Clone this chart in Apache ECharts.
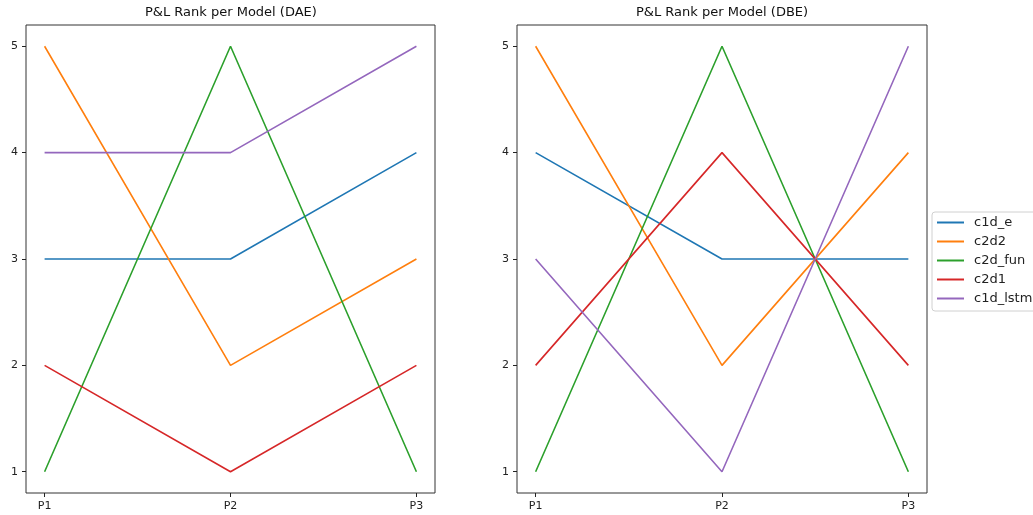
<!DOCTYPE html>
<html>
<head>
<meta charset="utf-8">
<script src="https://cdn.jsdelivr.net/npm/echarts@6/dist/echarts.min.js"></script>
<style>
  html, body { margin: 0; padding: 0; background: #fff; }
  #chart { width: 1033px; height: 515px; }
</style>
</head>
<body>
<div id="chart"></div>
<script>
const periods = ["P1", "P2", "P3"];
const models = ["c1d_e", "c2d2", "c2d_fun", "c2d1", "c1d_lstm"];
const colors = ["#1f77b4", "#ff7f0e", "#2ca02c", "#d62728", "#9467bd"];
const rankTicks = [1, 2, 3, 4, 5];

// ranks per model, one value per period
const daeRanks = [
  [3, 3, 4],
  [5, 2, 3],
  [1, 5, 1],
  [2, 1, 2],
  [4, 4, 5],
];
const dbeRanks = [
  [4, 3, 3],
  [5, 2, 4],
  [1, 5, 1],
  [2, 4, 2],
  [3, 1, 5],
];
const titles = ["P&L Rank per Model (DAE)", "P&L Rank per Model (DBE)"];

const FONT = "DejaVu Sans";
const INK = "#222";
const TITLE_SIZE = 13;

const chart = echarts.init(document.getElementById("chart"), null, { renderer: "canvas" });

const grids = [
  { left: 26, top: 25, width: 409, height: 468 },
  { left: 517, top: 25, width: 410, height: 468 },
];

// center the titles over their plots ourselves
const measure = document.createElement("canvas").getContext("2d");
measure.font = `${TITLE_SIZE}px "${FONT}"`;
function titleLeft(text, g) {
  return Math.round(g.left + g.width / 2 - measure.measureText(text).width / 2);
}

function xAxisFor(gridIndex) {
  return {
    type: "value",
    gridIndex,
    min: -0.1,
    max: periods.length - 1 + 0.1,
    axisLine: { show: false, onZero: false },
    splitLine: { show: false },
    axisTick: {
      show: true, inside: false, length: 4,
      customValues: periods.map((_, i) => i),
      lineStyle: { color: INK },
    },
    axisLabel: {
      customValues: periods.map((_, i) => i),
      formatter: (v) => periods[Math.round(v)] || "",
      color: INK, fontFamily: FONT, fontSize: 11, margin: 8,
    },
  };
}

function yAxisFor(gridIndex) {
  return {
    type: "value",
    gridIndex,
    min: 0.8,
    max: 5.2,
    axisLine: { show: false, onZero: false },
    splitLine: { show: false },
    axisTick: {
      show: true, inside: false, length: 4,
      customValues: rankTicks,
      lineStyle: { color: INK },
    },
    axisLabel: {
      customValues: rankTicks,
      color: INK, fontFamily: FONT, fontSize: 11, margin: 8,
    },
  };
}

function seriesFor(ranks, gridIndex) {
  return ranks.map((vals, m) => ({
    name: models[m],
    type: "line",
    xAxisIndex: gridIndex,
    yAxisIndex: gridIndex,
    data: vals.map((v, i) => [i, v]),
    symbol: "none",
    lineStyle: { width: 1.6, color: colors[m] },
    itemStyle: { color: colors[m] },
    z: 2,
  }));
}

chart.setOption({
  animation: false,
  backgroundColor: "#fff",
  title: titles.map((text, i) => ({
    text,
    left: titleLeft(text, grids[i]),
    top: 6,
    padding: 0,
    textStyle: { fontFamily: FONT, fontSize: TITLE_SIZE, fontWeight: "normal", color: "#111" },
  })),
  grid: grids.map((g) => ({
    ...g,
    show: true,
    borderColor: "#333",
    borderWidth: 1,
    backgroundColor: "transparent",
  })),
  xAxis: [xAxisFor(0), xAxisFor(1)],
  yAxis: [yAxisFor(0), yAxisFor(1)],
  legend: {
    data: models,
    orient: "vertical",
    left: 932,
    top: 212,
    padding: [4, 8, 6, 5],
    itemGap: 6,
    itemWidth: 27,
    itemHeight: 2,
    icon: "rect",
    borderColor: "#d0d0d0",
    borderWidth: 1,
    borderRadius: 3,
    backgroundColor: "#fff",
    selectedMode: false,
    textStyle: { fontFamily: FONT, fontSize: 13, color: INK, padding: [0, 0, 0, 5] },
  },
  series: [...seriesFor(daeRanks, 0), ...seriesFor(dbeRanks, 1)],
});
</script>
</body>
</html>
